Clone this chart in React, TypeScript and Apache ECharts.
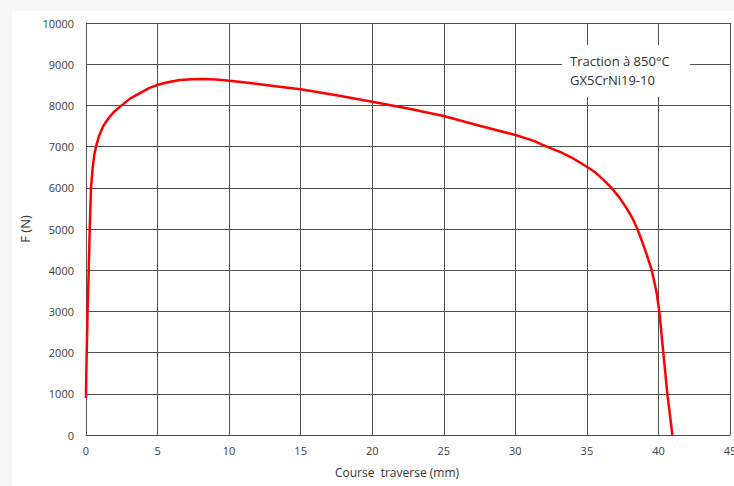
import React, { useEffect, useRef } from "react";
import * as echarts from "echarts";

// Course traverse (mm)
const courseMm: number[] = [
  0, 0.02, 0.05, 0.11, 0.19, 0.26, 0.35, 0.47, 0.58, 0.7, 0.9, 1.21, 1.6, 2.0, 2.49,
  3.1, 3.77, 4.4, 5.0, 5.8, 6.57, 7.4, 8.2, 9.1, 10, 11, 12.16, 13.5, 15, 17.5, 20,
  22.5, 25, 27.5, 30, 31.2, 32.2, 33.2, 34.0, 35, 35.6, 36.2, 36.74, 37.3, 37.78,
  38.2, 38.53, 38.8, 39.06, 39.3, 39.53, 39.72, 39.88, 40.06, 40.2, 40.34, 40.48,
  40.62, 40.8, 40.97,
];
// Force F (N)
const forceN: number[] = [
  900, 1500, 2000, 3000, 4000, 5000, 6000, 6500, 6800, 7000, 7250, 7500, 7700, 7860, 8000,
  8170, 8300, 8420, 8500, 8570, 8617, 8635, 8640, 8630, 8600, 8560, 8512, 8455, 8390, 8245, 8090,
  7925, 7743, 7507, 7282, 7150, 7000, 6860, 6720, 6512, 6370, 6180, 5990, 5750, 5500,
  5250, 5000, 4750, 4500, 4250, 4000, 3700, 3440, 3000, 2500, 2000, 1500,
  1000, 500, 0,
];
const annotationLines: string[] = ["Traction à 850°C", "GX5CrNi19-10"];
const xAxisTitle = "Course  traverse (mm)";
const yAxisTitle = "F (N)";

export default function App() {
  const ref = useRef<HTMLDivElement>(null);
  useEffect(() => {
    document.body.style.margin = "0";
    document.documentElement.style.overflow = "hidden";
    const chart = echarts.init(ref.current!, null, { renderer: "svg", width: 734, height: 486 });
    const points = courseMm.map((x, i) => [x, forceN[i]]);
    const font = "'Open Sans', 'DejaVu Sans', sans-serif";
    const gridColor = "#505050";
    chart.setOption({
      animation: false,
      backgroundColor: "#f6f7f6",
      graphic: [
        {
          type: "rect",
          z: -10,
          silent: true,
          shape: { x: 12, y: 11, width: 722, height: 475 },
          style: { fill: "#fdfefd" },
        },
        {
          type: "rect",
          z: 50,
          shape: { x: 562, y: 45, width: 128, height: 52 },
          style: { fill: "#fdfefd" },
        },
        {
          type: "text",
          z: 51,
          x: 570,
          y: 61,
          style: {
            text: annotationLines[0],
            font: `13px ${font}`,
            fill: "#333",
            verticalAlign: "middle",
          },
        },
        {
          type: "text",
          z: 51,
          x: 570,
          y: 80,
          style: {
            text: annotationLines[1],
            font: `13px ${font}`,
            fill: "#333",
            verticalAlign: "middle",
          },
        },
      ],
      grid: {
        left: 86,
        right: 4,
        top: 23,
        bottom: 51,
        containLabel: false,
        outerBoundsMode: "none",
      },
      xAxis: {
        type: "value",
        min: 0,
        max: 45,
        interval: 5,
        name: xAxisTitle,
        nameLocation: "middle",
        nameGap: 31,
        nameTextStyle: { fontFamily: font, fontSize: 12, color: "#333", padding: [0, 22, 0, 0] },
        axisLine: { show: true, lineStyle: { color: gridColor, width: 1 } },
        axisTick: { show: false },
        axisLabel: { fontFamily: font, fontSize: 11, color: "#404040", margin: 10, formatter: (v: number) => String(v) },
        splitLine: { show: true, lineStyle: { color: gridColor, width: 1 } },
      },
      yAxis: {
        type: "value",
        min: 0,
        max: 10000,
        interval: 1000,
        name: yAxisTitle,
        nameLocation: "middle",
        nameGap: 44,
        nameRotate: 90,
        nameTextStyle: { fontFamily: font, fontSize: 13, color: "#333" },
        axisLine: { show: true, lineStyle: { color: gridColor, width: 1 } },
        axisTick: { show: false },
        axisLabel: { fontFamily: font, fontSize: 11, color: "#404040", margin: 12, formatter: (v: number) => String(v) },
        splitLine: { show: true, lineStyle: { color: gridColor, width: 1 } },
      },
      series: [
        {
          type: "line",
          data: points,
          showSymbol: false,
          smooth: false,
          lineStyle: { color: "#ff0000", width: 2.5 },
          z: 10,
        },
      ],
    });
    return () => chart.dispose();
  }, []);
  return (
    <div
      ref={ref}
      style={{ position: "fixed", left: 0, top: 0, width: 734, height: 486, overflow: "hidden" }}
    />
  );
}
